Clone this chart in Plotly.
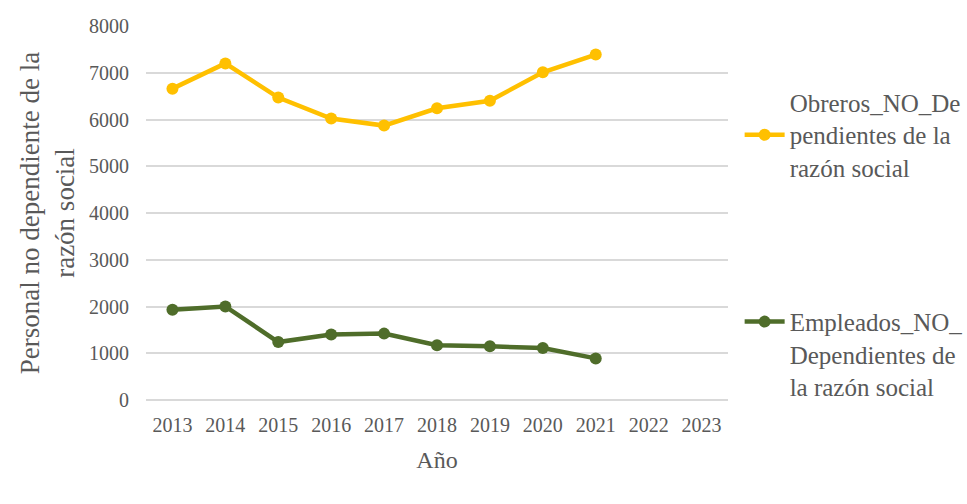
import plotly.graph_objects as go

years = ["2013", "2014", "2015", "2016", "2017", "2018", "2019", "2020", "2021", "2022", "2023"]
obreros = [6660, 7200, 6470, 6020, 5870, 6240, 6400, 7010, 7390, None, None]
empleados = [1930, 2000, 1240, 1400, 1420, 1170, 1150, 1110, 890, None, None]
name_obreros = "Obreros_NO_De<br>pendientes de la<br>razón social"
name_empleados = "Empleados_NO_<br>Dependientes de<br>la razón social"
y_ticks = [0, 1000, 2000, 3000, 4000, 5000, 6000, 7000, 8000]

font = "Liberation Serif"
gray = "#595959"

fig = go.Figure()
fig.add_trace(go.Scatter(x=years, y=obreros, name=name_obreros, mode="lines+markers",
                         line=dict(color="#FFC000", width=4.5), marker=dict(size=12, color="#FFC000"),
                         legend="legend"))
fig.add_trace(go.Scatter(x=years, y=empleados, name=name_empleados, mode="lines+markers",
                         line=dict(color="#4F6D2A", width=4.5), marker=dict(size=12, color="#4F6D2A"),
                         legend="legend2"))

leg_common = dict(xanchor="left", yanchor="middle", itemwidth=40, bgcolor="rgba(0,0,0,0)",
                  font=dict(size=25, color=gray, family=font))

fig.update_layout(
    width=967, height=504,
    margin=dict(l=146, r=239, t=26, b=104, autoexpand=False),
    plot_bgcolor="white", paper_bgcolor="white",
    font=dict(family=font, color=gray),
    showlegend=True,
    legend=dict(x=1.02, y=0.7086, valign="middle", **leg_common),
    legend2=dict(x=1.02, y=0.122, valign="top", **leg_common),
    xaxis=dict(type="category", categoryorder="array", categoryarray=years, automargin=False,
               range=[-0.5, len(years) - 0.5],
               showgrid=False, showline=False, ticks="",
               tickfont=dict(size=20, color=gray, family=font), ticklabelstandoff=11,
               title=dict(text="Año", font=dict(size=24, color=gray, family=font), standoff=16)),
    yaxis=dict(range=[0, 8000], tickvals=y_ticks, showgrid=True, gridcolor="#D9D9D9", gridwidth=1.5,
               automargin=False,
               zeroline=True, zerolinecolor="#D9D9D9", zerolinewidth=1.5, showline=False,
               tickfont=dict(size=20, color=gray, family=font), ticklabelstandoff=16,
               title=dict(text="Personal no dependiente de la<br>razón social",
                          font=dict(size=27, color=gray, family=font), standoff=6)),
)

fig.write_html("out.html", config={"displayModeBar": False},
               post_script="document.body.style.margin='0';")
